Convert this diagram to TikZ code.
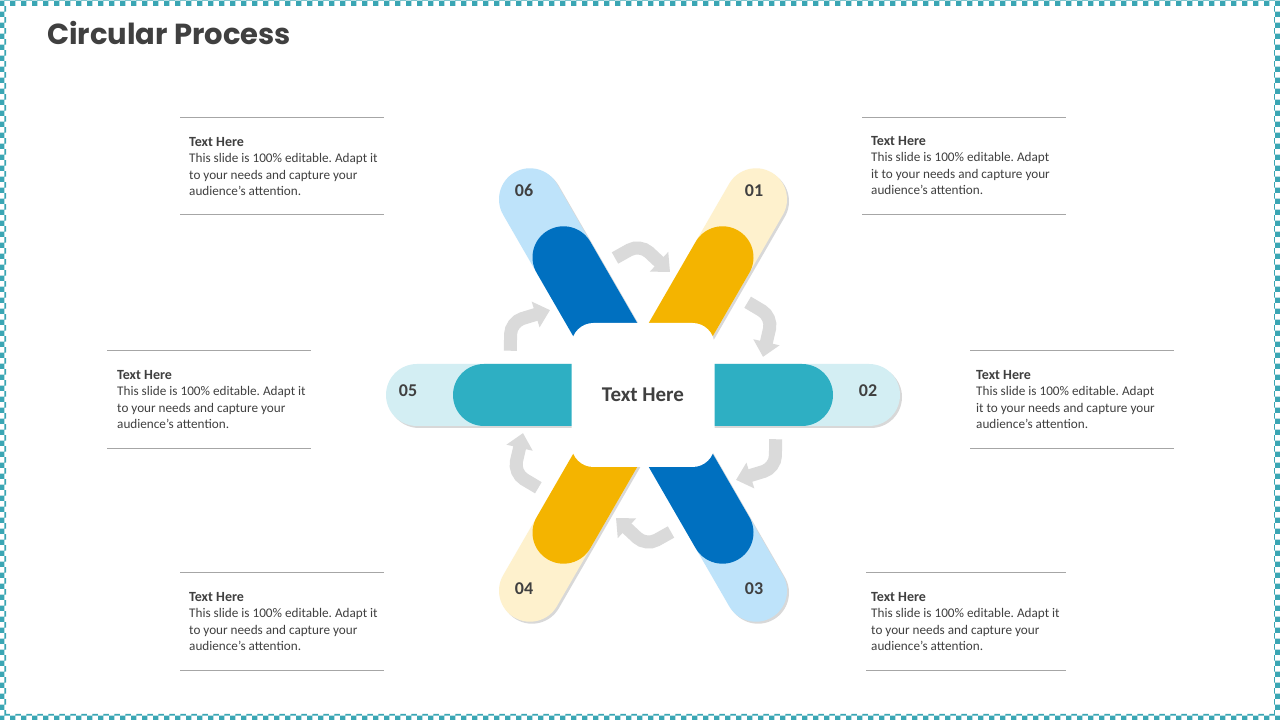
\documentclass[tikz,border=0pt]{standalone}
\usepackage{fontspec}
\setmainfont{Carlito}
\newfontfamily\titlefont{Poppins}
\usetikzlibrary{
    positioning,
    calc,
    arrows.meta,
    shadows,
    patterns
}
\definecolor{DarkText}{HTML}{404040}
\definecolor{RuleGray}{HTML}{A6A6A6}
\definecolor{FrameTeal}{HTML}{3AA6B4}
\definecolor{YellowDark}{HTML}{F4B400}
\definecolor{YellowLight}{HTML}{FEF1CD}
\definecolor{BlueDark}{HTML}{0070C0}
\definecolor{BlueLight}{HTML}{BEE3FA}
\definecolor{TealDark}{HTML}{2EAFC3}
\definecolor{TealLight}{HTML}{D3EEF3}
\definecolor{ArrowGray}{HTML}{DADADA}
\frenchspacing

\tikzset{
    lightbar/.style={
        drop shadow={opacity=0.3, shadow xshift=2pt, shadow yshift=-2pt}
    },
    flowarrow/.style={
        draw=ArrowGray,
        line width=13pt,
        rounded corners=12pt,
        -{Triangle[width=26pt,length=15pt]}
    },
    numlabel/.style={
        text=DarkText,
        inner sep=0pt,
        font=\fontsize{18}{18}\selectfont\bfseries
    },
    infotext/.style={
        text=DarkText,
        align=left,
        inner sep=0pt,
        anchor=north west,
        font=\fontsize{13.2}{16.5}\selectfont
    },
    sepline/.style={draw=RuleGray, line width=0.9pt}
}

\begin{document}
\begin{tikzpicture}[x=1pt, y=1pt]
    \useasboundingbox (0,0) rectangle (1280,720);
    \fill[white] (0,0) rectangle (1280,720);
    \fill[pattern=checkerboard, pattern color=FrameTeal, even odd rule]
        (0,0) rectangle (1280,720) (6,6) rectangle (1274,714);

    \node[
        anchor=base west,
        inner sep=0pt,
        text=DarkText,
        font=\titlefont\bfseries\fontsize{29}{29}\selectfont
    ] (title) at (47,675) {Circular Process};

    \coordinate (C) at (643,325);

    \foreach \ang/\col in {0/TealLight,60/YellowLight,120/BlueLight,180/TealLight,240/YellowLight,300/BlueLight}{
        \begin{scope}[shift={(C)}, rotate=\ang]
            \fill[\col, lightbar] (0,-31) -- (226,-31)
                arc[start angle=-90, end angle=90, radius=31] -- (0,31) -- cycle;
        \end{scope}
    }
    \foreach \ang/\col in {0/TealDark,60/YellowDark,120/BlueDark,180/TealDark,240/YellowDark,300/BlueDark}{
        \begin{scope}[shift={(C)}, rotate=\ang]
            \fill[\col] (0,-31) -- (159,-31)
                arc[start angle=-90, end angle=90, radius=31] -- (0,31) -- cycle;
        \end{scope}
    }

    \foreach \ang in {0,-60,...,-300}{
        \begin{scope}[shift={(C)}, rotate=\ang]
            \draw[flowarrow] (-28,137) -- (-3,151) -- (27,123);
        \end{scope}
    }

    \node[
        fill=white,
        rounded corners=22pt,
        minimum width=143pt,
        minimum height=144pt,
        inner sep=0pt,
        text=DarkText,
        font=\fontsize{21}{21}\selectfont\bfseries
    ] (hub) at (C) {Text Here};

    \foreach \num/\dx/\dy in {01/111/204,02/225/4,03/111/-194,04/-119/-194,05/-235/4,06/-119/205}{
        \node[numlabel] (n\num) at ($(C)+(\dx,\dy)$) {\num};
    }

    \node[infotext] (info06) at (189,583) {{\fontsize{14}{16.5}\selectfont\bfseries Text Here}\\This slide is 100\% editable. Adapt it\\to your needs and capture your\\audience's attention.};
    \node[infotext] (info01) at (871,584) {{\fontsize{14}{16.5}\selectfont\bfseries Text Here}\\This slide is 100\% editable. Adapt\\it to your needs and capture your\\audience's attention.};
    \node[infotext] (info05) at (117,350) {{\fontsize{14}{16.5}\selectfont\bfseries Text Here}\\This slide is 100\% editable. Adapt it\\to your needs and capture your\\audience's attention.};
    \node[infotext] (info02) at (976,350) {{\fontsize{14}{16.5}\selectfont\bfseries Text Here}\\This slide is 100\% editable. Adapt\\it to your needs and capture your\\audience's attention.};
    \node[infotext] (info04) at (189,128) {{\fontsize{14}{16.5}\selectfont\bfseries Text Here}\\This slide is 100\% editable. Adapt it\\to your needs and capture your\\audience's attention.};
    \node[infotext] (info03) at (871,128) {{\fontsize{14}{16.5}\selectfont\bfseries Text Here}\\This slide is 100\% editable. Adapt it\\to your needs and capture your\\audience's attention.};

    \draw[sepline] (180,603) -- (384,603);
    \draw[sepline] (180,506) -- (384,506);
    \draw[sepline] (862,603) -- (1066,603);
    \draw[sepline] (862,506) -- (1066,506);
    \draw[sepline] (107,370) -- (311,370);
    \draw[sepline] (107,272) -- (311,272);
    \draw[sepline] (970,370) -- (1174,370);
    \draw[sepline] (970,272) -- (1174,272);
    \draw[sepline] (180,148) -- (384,148);
    \draw[sepline] (180,50) -- (384,50);
    \draw[sepline] (866,148) -- (1066,148);
    \draw[sepline] (866,50) -- (1066,50);
\end{tikzpicture}
\end{document}
